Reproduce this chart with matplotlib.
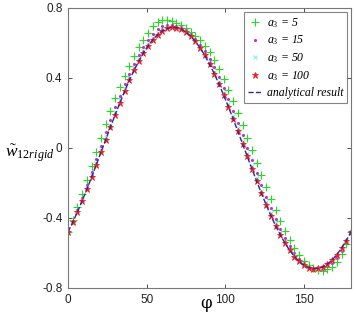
import matplotlib
matplotlib.use('Agg')
import matplotlib.pyplot as plt

plt.rcParams['mathtext.fontset'] = 'custom'
plt.rcParams['mathtext.it'] = 'Liberation Serif:italic'
plt.rcParams['mathtext.rm'] = 'Liberation Serif'

# angle phi in degrees, step 3
phi = list(range(0, 181, 3))

# a3 = 5
w_a5 = [-0.479, -0.41, -0.338, -0.262, -0.183, -0.102, -0.02, 0.06, 0.138, 0.212,
        0.283, 0.35, 0.412, 0.47, 0.525, 0.575, 0.62, 0.66, 0.695, 0.72,
        0.731, 0.73, 0.724, 0.714, 0.701, 0.685, 0.665, 0.642, 0.615, 0.584,
        0.550, 0.505, 0.453, 0.396, 0.334, 0.270, 0.202, 0.132, 0.060, -0.012,
        -0.084, -0.155, -0.225, -0.292, -0.357, -0.418, -0.474, -0.526, -0.572, -0.612,
        -0.645, -0.671, -0.688, -0.698, -0.70, -0.694, -0.678, -0.65, -0.608, -0.55,
        -0.479]
# a3 = 15
w_a15 = [-0.479, -0.418, -0.353, -0.284, -0.212, -0.138, -0.062, 0.014, 0.089, 0.161,
         0.232, 0.299, 0.364, 0.424, 0.480, 0.532, 0.578, 0.619, 0.654, 0.680,
         0.697, 0.704, 0.705, 0.700, 0.689, 0.673, 0.651, 0.624, 0.591, 0.554,
         0.511, 0.461, 0.405, 0.344, 0.280, 0.213, 0.144, 0.073, 0.001, -0.071,
         -0.142, -0.212, -0.279, -0.344, -0.405, -0.461, -0.513, -0.558, -0.598, -0.632,
         -0.658, -0.678, -0.689, -0.693, -0.689, -0.677, -0.657, -0.627, -0.588, -0.538,
         -0.479]
# a3 = 50
w_a50 = [-0.479, -0.423, -0.362, -0.296, -0.228, -0.157, -0.085, -0.011, 0.062, 0.134,
         0.204, 0.272, 0.337, 0.399, 0.456, 0.508, 0.555, 0.596, 0.631, 0.659,
         0.678, 0.690, 0.694, 0.692, 0.683, 0.666, 0.644, 0.614, 0.578, 0.537,
         0.490, 0.437, 0.379, 0.316, 0.251, 0.182, 0.112, 0.040, -0.032, -0.104,
         -0.174, -0.243, -0.309, -0.372, -0.431, -0.484, -0.534, -0.576, -0.613, -0.643,
         -0.665, -0.681, -0.689, -0.690, -0.683, -0.668, -0.646, -0.615, -0.577, -0.532,
         -0.479]
# analytical result
w_analytical = [-0.479, -0.425, -0.366, -0.302, -0.236, -0.167, -0.096, -0.024, 0.048, 0.120,
                0.190, 0.258, 0.324, 0.386, 0.444, 0.496, 0.544, 0.585, 0.620, 0.648,
                0.669, 0.683, 0.689, 0.688, 0.680, 0.663, 0.640, 0.609, 0.572, 0.529,
                0.479, 0.425, 0.366, 0.302, 0.236, 0.167, 0.096, 0.024, -0.048, -0.120,
                -0.190, -0.258, -0.324, -0.386, -0.444, -0.496, -0.544, -0.585, -0.620, -0.648,
                -0.669, -0.683, -0.689, -0.688, -0.680, -0.663, -0.640, -0.609, -0.572, -0.529,
                -0.479]
# a3 = 100 sits on the analytical curve
w_a100 = w_analytical

xticks = [0, 50, 100, 150]
yticks = [-0.8, -0.4, 0, 0.4, 0.8]
ytick_labels = ['-0.8', '-0.4', '0', '0.4', '0.8']

fig = plt.figure(figsize=(3.56, 3.19), dpi=100)
ax = fig.add_axes([68/356, 31/319, 283/356, 280/319])

ax.plot(phi, w_a5, '+', color='#22dd22', ms=5.5, mew=0.8, label=r'$a_3$ = 5')
ax.plot(phi, w_a15, '.', color='#bb33cc', ms=2.5, label=r'$a_3$ = 15')
ax.plot(phi, w_a50, 'x', color='#88eeee', ms=3.5, mew=0.8, label=r'$a_3$ = 50')
ax.plot(phi, w_a100, '*', color='#ee2222', ms=4.5, mew=0.6, label=r'$a_3$ = 100')
ax.plot(phi, w_analytical, '--', color='#2a2a99', lw=1, label='analytical result')

ax.set_xlim(0, 180)
ax.set_ylim(-0.8, 0.8)
ax.set_xticks(xticks)
ax.set_yticks(yticks)
ax.set_yticklabels(ytick_labels)
ax.tick_params(direction='in', top=True, right=True, length=3, width=0.6, pad=4,
               labelsize=8.5, colors='#333333', labelcolor='#222222')
for lab in ax.get_xticklabels() + ax.get_yticklabels():
    lab.set_family('Liberation Sans')
for s in ax.spines.values():
    s.set_color('#777777')
    s.set_linewidth(0.8)

fig.text(206/356, 1 - 304/319, 'φ', family='DejaVu Serif', fontsize=12,
         ha='center', va='center')
fig.text(5/356, 1 - 153/319, r'$\tilde{w}_{12rigid}$', fontsize=12.5, ha='left', va='center')

leg = ax.legend(loc='upper right', bbox_to_anchor=(0.985, 0.985), borderaxespad=0,
                prop={'family': 'Liberation Serif', 'style': 'italic', 'size': 8.5},
                fancybox=False, handlelength=1.2, handletextpad=0.4,
                labelspacing=0.35, borderpad=0.3)
leg.get_frame().set_edgecolor('#666666')
leg.get_frame().set_linewidth(0.8)

fig.savefig('out.png', dpi=100)
